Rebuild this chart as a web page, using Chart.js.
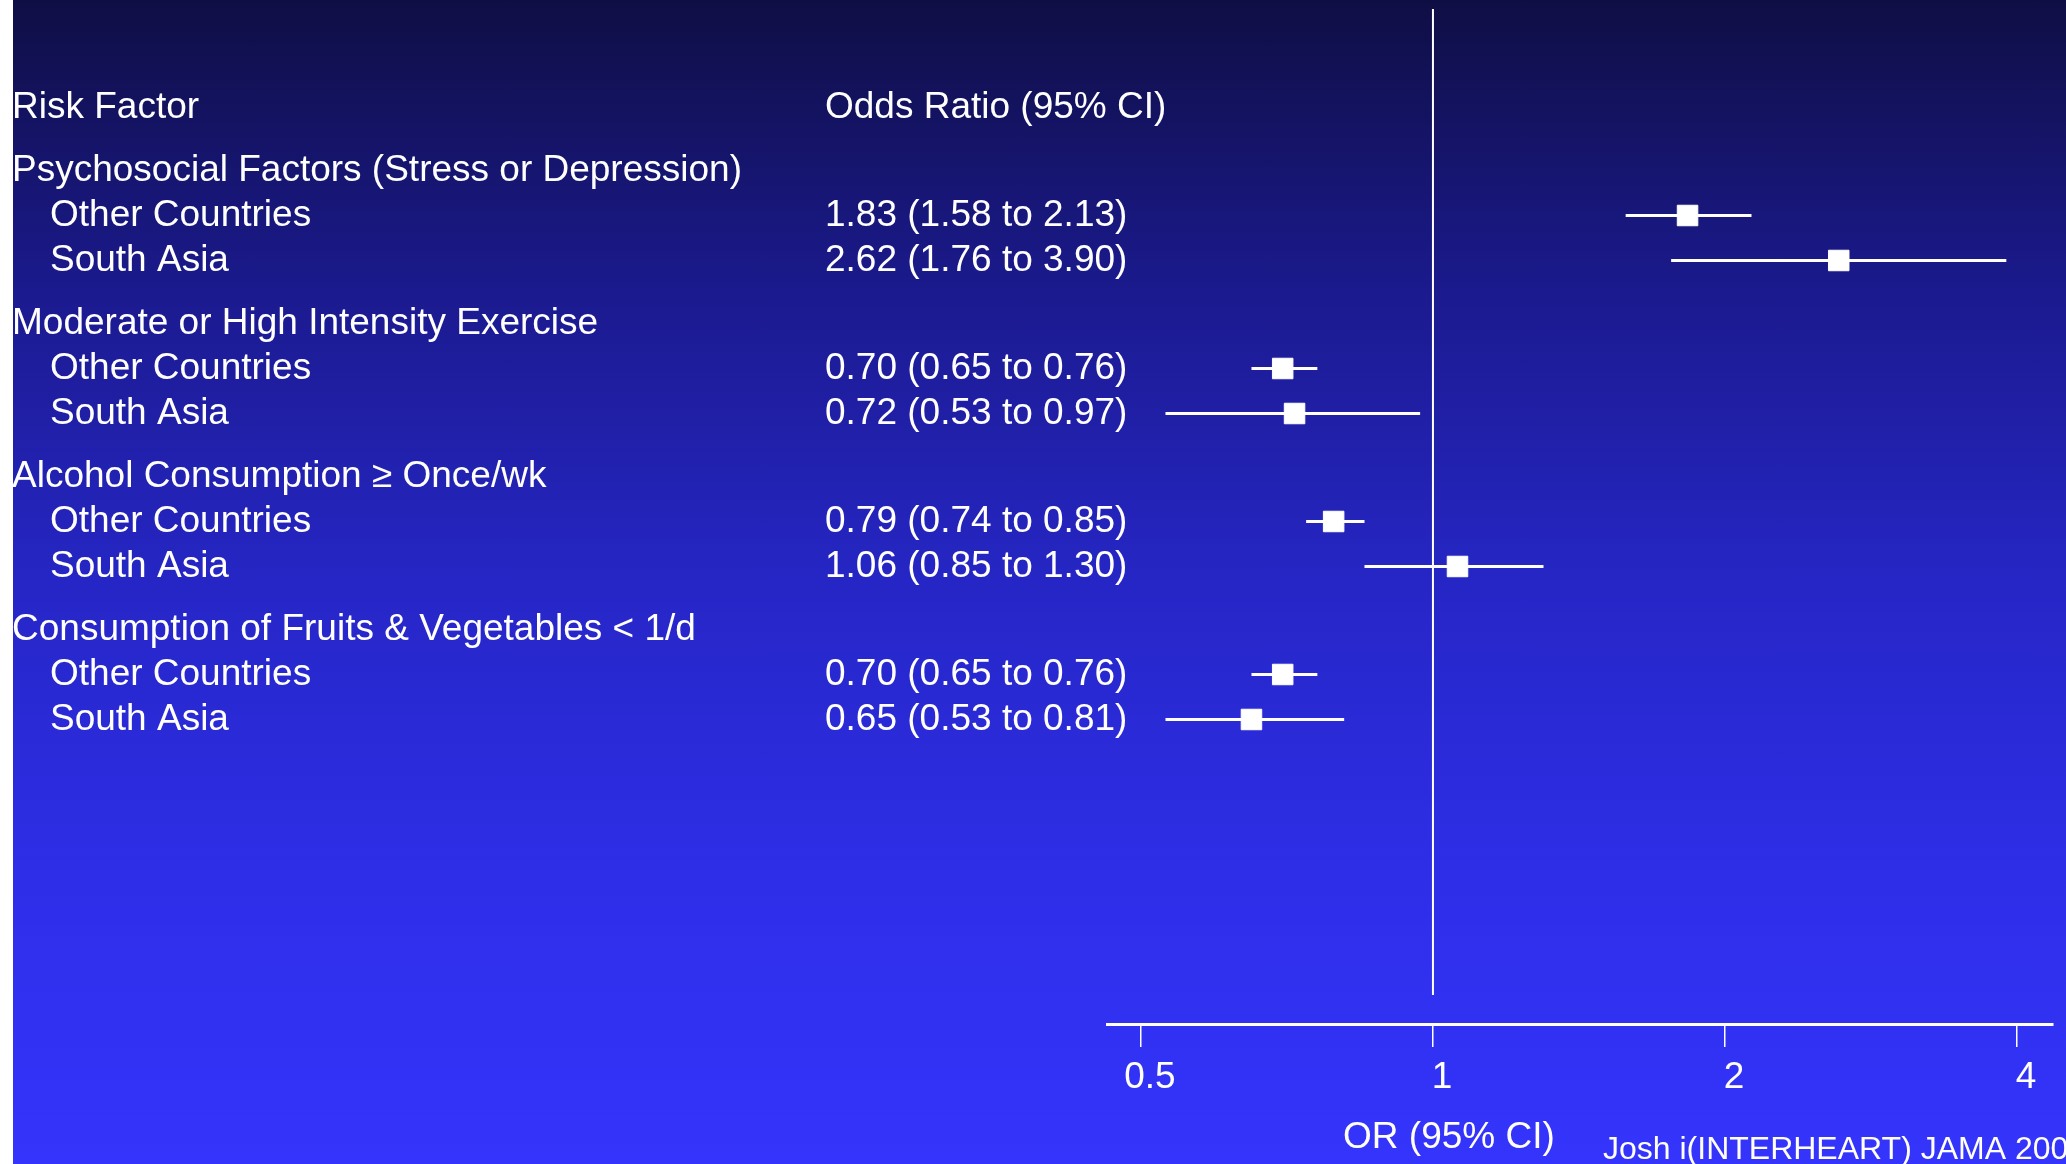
<!DOCTYPE html>
<html>
<head>
<meta charset="utf-8">
<title>INTERHEART forest plot</title>
<script src="https://cdn.jsdelivr.net/npm/chart.js@4.4.1/dist/chart.umd.min.js"></script>
<style>
  html, body { margin: 0; padding: 0; background: #fff; overflow: hidden; }
  #slide {
    position: absolute; left: 13px; top: 0; width: 2053px; height: 1164px;
    background: linear-gradient(to bottom, #0f0e44 0%, #1b1a8e 25%, #2626c6 50%, #2e2ee8 75%, #3434fc 100%);
  }
  canvas { display: block; }
</style>
</head>
<body>
<div id="slide"><canvas id="forest" width="2053" height="1164"></canvas></div>
<script>
const riskFactors = [
  "Psychosocial Factors (Stress or Depression)",
  "Moderate or High Intensity Exercise",
  "Alcohol Consumption \u2265 Once/wk",
  "Consumption of Fruits & Vegetables < 1/d",
];
const regions = ["Other Countries", "South Asia"];
const oddsRatios = [1.83, 2.62, 0.70, 0.72, 0.79, 1.06, 0.70, 0.65];
const ciLower = [1.58, 1.76, 0.65, 0.53, 0.74, 0.85, 0.65, 0.53];
const ciUpper = [2.13, 3.90, 0.76, 0.97, 0.85, 1.30, 0.76, 0.81];
const orTicks = [0.5, 1, 2, 4];
const columnHeaders = ["Risk Factor", "Odds Ratio (95% CI)"];
const axisTitle = "OR (95% CI)";
const source = "Josh i(INTERHEART) JAMA 2007";

const FONT = '"Liberation Sans", Helvetica, Arial, sans-serif';

// row positions in line units: header at 0, a wider gap before each group heading
const headingPos = [];
const rowPos = [];
let pos = 0;
riskFactors.forEach(() => {
  pos += 1.4;
  headingPos.push(pos);
  regions.forEach(() => { pos += 1; rowPos.push(pos); });
});

const fmt = (v) => v.toFixed(2);
const orLabels = oddsRatios.map((v, i) => `${fmt(v)} (${fmt(ciLower[i])} to ${fmt(ciUpper[i])})`);

const slideText = {
  id: "slideText",
  beforeDatasetsDraw(chart) {
    const { ctx, chartArea, scales: { x } } = chart;
    const px = x.getPixelForValue(1);
    ctx.save();
    ctx.strokeStyle = "#fff";
    ctx.lineWidth = 2;
    ctx.beginPath();
    ctx.moveTo(px, chartArea.top);
    ctx.lineTo(px, chartArea.bottom - 29);
    ctx.stroke();
    ctx.restore();
  },
  afterDraw(chart) {
    const { ctx, scales: { x, y } } = chart;
    const leftCol = -1, indent = 38, orCol = 812;
    ctx.save();
    ctx.fillStyle = "#fff";
    ctx.textBaseline = "middle";
    ctx.font = `37px ${FONT}`;
    ctx.fillText(columnHeaders[0], leftCol, y.getPixelForValue(0));
    ctx.fillText(columnHeaders[1], orCol, y.getPixelForValue(0));
    riskFactors.forEach((name, g) => {
      ctx.fillText(name, leftCol, y.getPixelForValue(headingPos[g]));
    });
    rowPos.forEach((p, i) => {
      const py = y.getPixelForValue(p);
      ctx.fillText(regions[i % regions.length], leftCol + indent, py);
      ctx.fillText(orLabels[i], orCol, py);
    });
    ctx.textAlign = "center";
    ctx.fillText(axisTitle, x.getPixelForValue(1) + 16, 1138);
    ctx.textAlign = "left";
    ctx.font = `32px ${FONT}`;
    ctx.fillText(source, 1590, 1150);
    ctx.restore();
  },
};

// one short line per row for the 95% CI
const ciDatasets = rowPos.map((p, i) => ({
  type: "scatter",
  showLine: true,
  data: [{ x: ciLower[i], y: p }, { x: ciUpper[i], y: p }],
  borderColor: "#fff",
  borderWidth: 3,
  pointRadius: 0,
  pointHoverRadius: 0,
  order: 2,
}));

new Chart(document.getElementById("forest"), {
  type: "scatter",
  data: {
    datasets: [
      ...ciDatasets,
      {
        type: "scatter",
        data: rowPos.map((p, i) => ({ x: oddsRatios[i], y: p })),
        pointStyle: "rect",
        pointRadius: 14.5,
        pointHoverRadius: 14.5,
        backgroundColor: "#fff",
        borderColor: "#fff",
        borderWidth: 1,
        order: 1,
      },
    ],
  },
  options: {
    responsive: false,
    animation: false,
    devicePixelRatio: 1,
    events: [],
    layout: { autoPadding: false, padding: { left: 1094, right: 13, top: 9, bottom: 0 } },
    plugins: { legend: { display: false }, tooltip: { enabled: false } },
    scales: {
      x: {
        type: "logarithmic",
        position: "bottom",
        bounds: "data",
        min: 0.4613,
        max: 4.357,
        afterBuildTicks: (s) => { s.ticks = orTicks.map((v) => ({ value: v })); },
        afterFit: (s) => { s.height = 140; },
        grid: { drawOnChartArea: false, color: "#fff", lineWidth: 1.5, tickLength: 23 },
        border: { color: "#fff", width: 3 },
        ticks: {
          color: "#fff",
          font: { family: FONT, size: 37 },
          padding: 9,
          labelOffset: 9,
          autoSkip: false,
          maxRotation: 0,
          callback: (v) => String(v),
        },
      },
      y: { type: "linear", display: false, reverse: true, bounds: "data", offset: false, min: -2.189, max: 20.367 },
    },
  },
  plugins: [slideText],
});
</script>
</body>
</html>
